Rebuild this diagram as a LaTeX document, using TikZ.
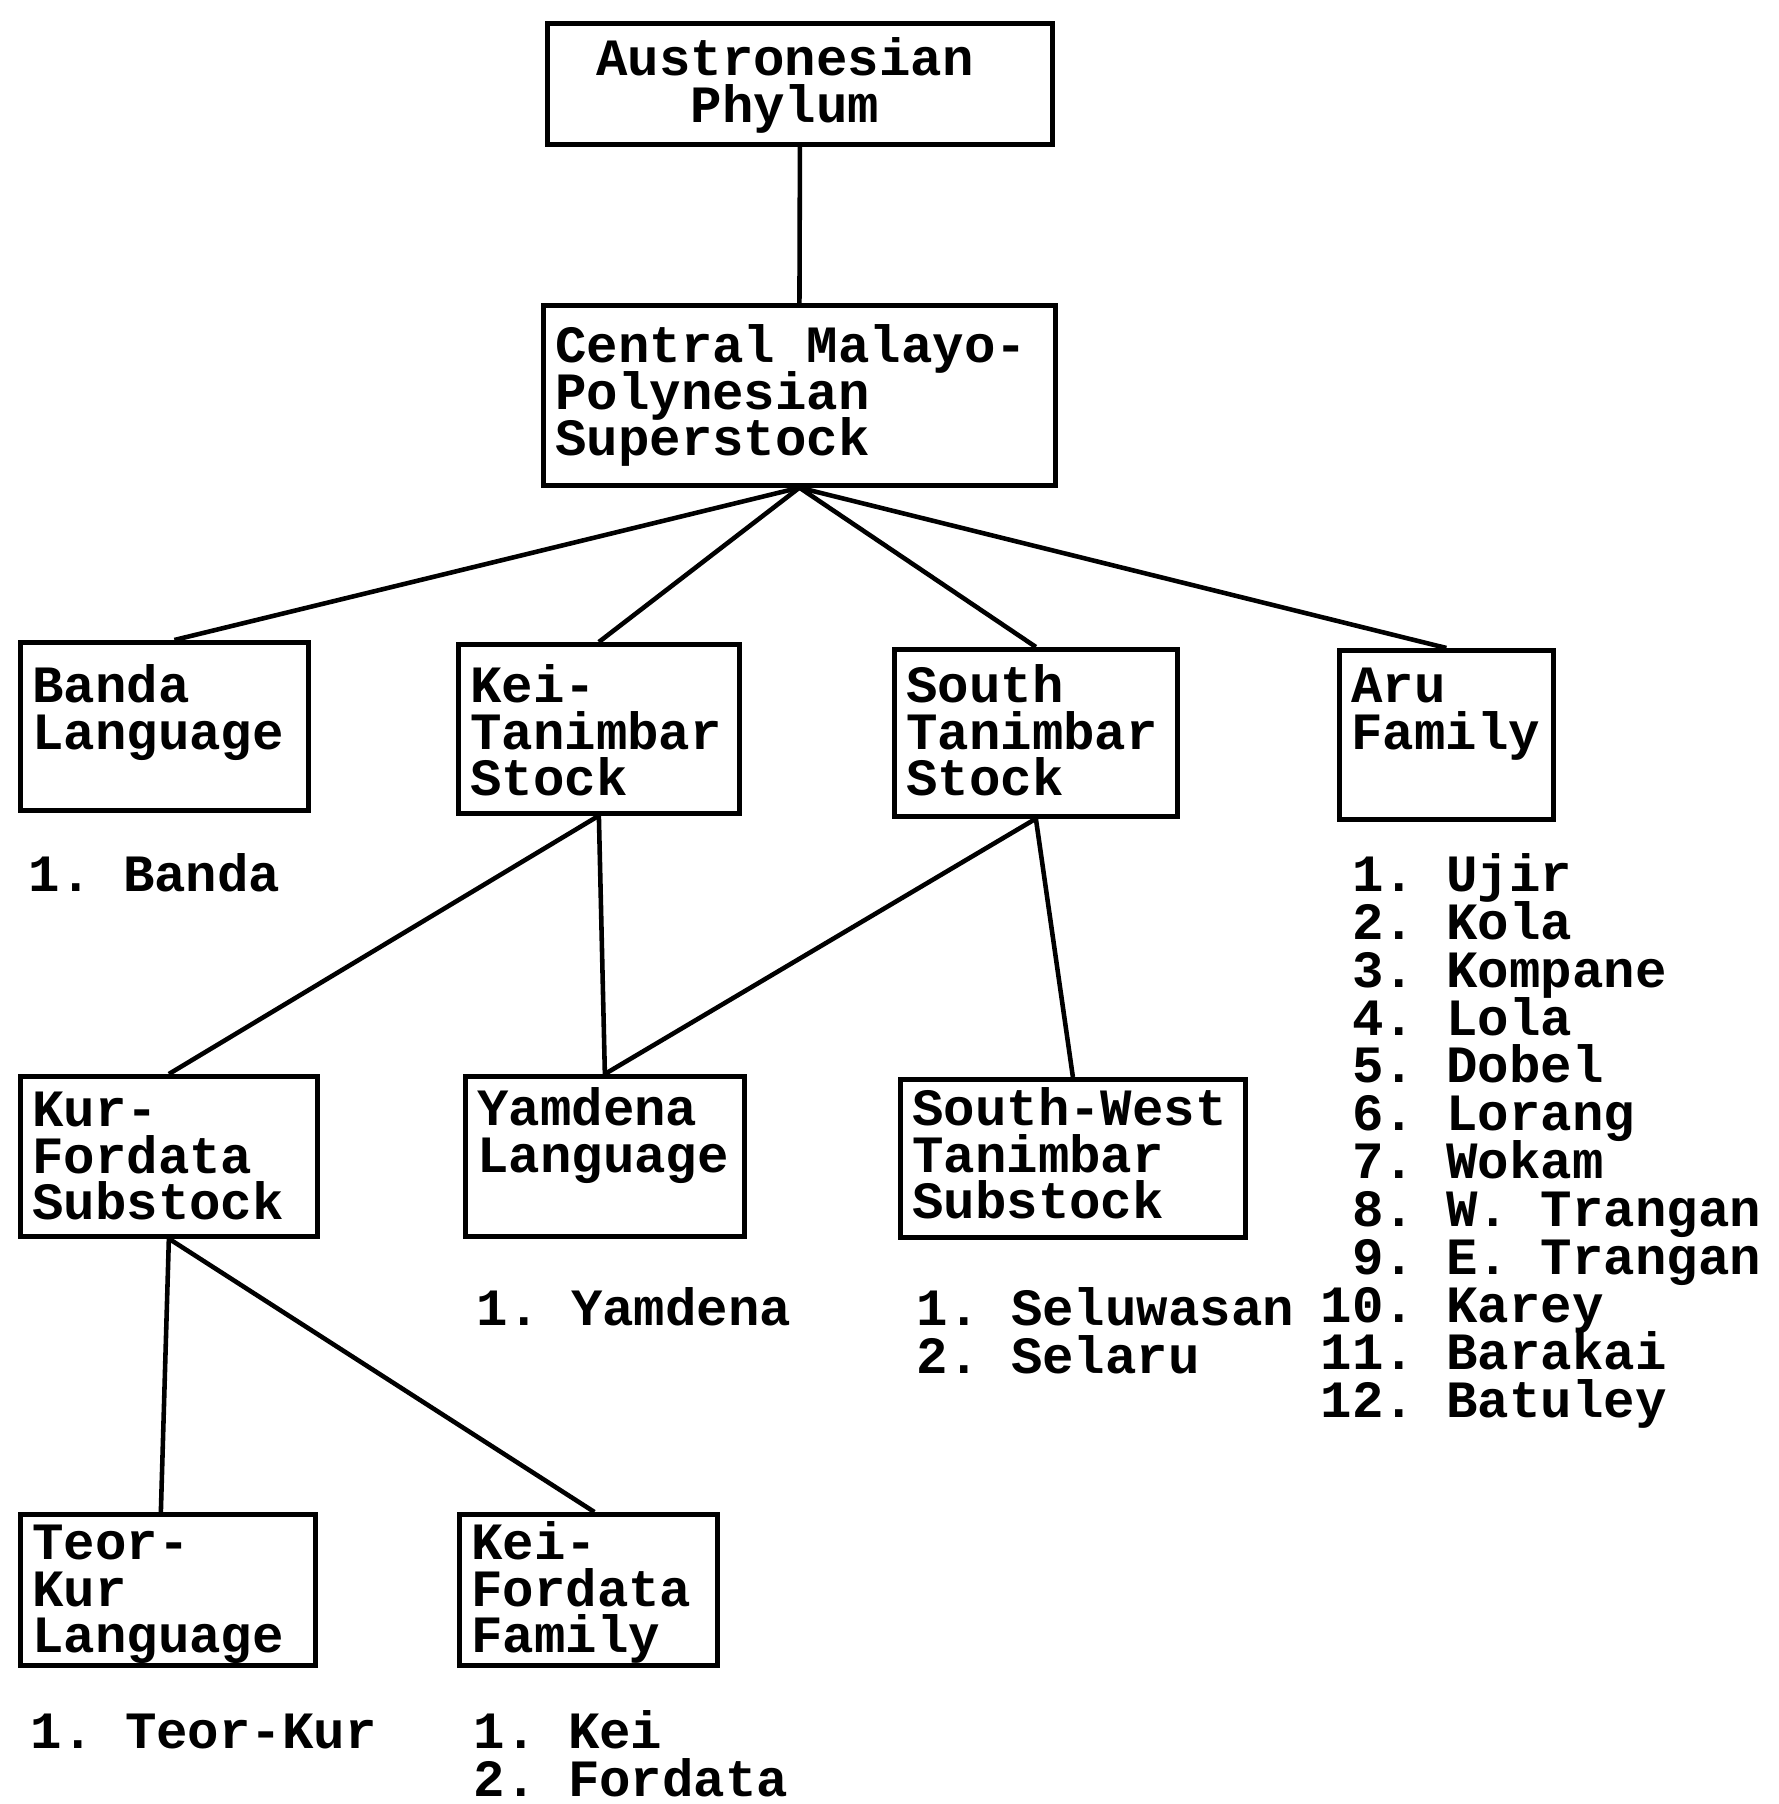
\documentclass[tikz,border=0pt]{standalone}
\usepackage{fontspec}
\setmainfont{Liberation Mono}
\usetikzlibrary{positioning}

% box text: [first baseline]{width}{height}{lines}
\newcommand{\bx}[4][0.55cm]{\begin{minipage}[t][#3][t]{#2}\fontsize{14.9}{13.3}\selectfont
  \setlength{\lineskiplimit}{-20pt}\raggedright\rule{0pt}{#1}#4\end{minipage}}

\begin{document}
\frenchspacing
\setlength{\lineskiplimit}{-20pt}
\begin{tikzpicture}[x=0.01cm, y=-0.01cm,
    box/.style={draw, line width=1.3pt, anchor=north west, inner xsep=0.12cm, inner ysep=0pt,
      font=\bfseries},
    lst/.style={anchor=north west, inner sep=0pt, align=left,
      font=\fontsize{14.9}{13.6}\selectfont\bfseries},
    link/.style={line width=1.3pt}]
\useasboundingbox (0,0) rectangle (1778,1804);

% Top levels
\node[box] (aust) at (545,21) {\bx[0.52cm]{4.81cm}{1.21cm}{\hspace*{0.37cm}Austronesian\\\hspace*{0.37cm}\phantom{Aus}Phylum}};
\node[box] (central) at (541,303) {\bx[0.57cm]{4.88cm}{1.80cm}{Central Malayo-\\Polynesian\\Superstock}};

% Second row
\node[box] (banda) at (18,640) {\bx[0.60cm]{2.64cm}{1.68cm}{Banda\\Language}};
\node[box] (keitan) at (456,642) {\bx[0.58cm]{2.57cm}{1.69cm}{Kei-\\Tanimbar\\Stock}};
\node[box] (southtan) at (892,647) {\bx[0.53cm]{2.59cm}{1.67cm}{South\\Tanimbar\\Stock}};
\node[box] (aru) at (1337,648) {\bx[0.52cm]{1.90cm}{1.69cm}{Aru\\Family}};

% Third row
\node[box] (kurfor) at (18,1074) {\bx[0.50cm]{2.73cm}{1.60cm}{Kur-\\Fordata\\Substock}};
\node[box] (yamdena) at (463,1074) {\bx[0.49cm]{2.55cm}{1.60cm}{Yamdena\\Language}};
\node[box] (southwest) at (898,1077) {\bx[0.46cm]{3.21cm}{1.58cm}{South-West\\Tanimbar\\Substock}};

% Bottom row
\node[box] (teorkur) at (18,1512) {\bx[0.45cm]{2.71cm}{1.51cm}{Teor-\\Kur\\Language}};
\node[box] (keifor) at (457,1512) {\bx[0.45cm]{2.34cm}{1.51cm}{Kei-\\Fordata\\Family}};

% Member lists
\node[lst] (bandalist) at (28,853) {1. Banda};
\node[lst] (yamlist) at (476,1287) {1. Yamdena};
\node[lst] (swlist) at (916,1287) {1. Seluwasan\\2. Selaru};
\node[lst] (teorlist) at (30,1713) {1. Teor-Kur};
\node[lst] (keiflist) at (473,1710) {1. Kei\\2. Fordata};
\node[lst] (arulist) at (1320,853) {\phantom{1}1. Ujir\\\phantom{1}2. Kola\\\phantom{1}3. Kompane\\
  \phantom{1}4. Lola\\\phantom{1}5. Dobel\\\phantom{1}6. Lorang\\\phantom{1}7. Wokam\\
  \phantom{1}8. W. Trangan\\\phantom{1}9. E. Trangan\\10. Karey\\11. Barakai\\12. Batuley};

% Connections
\draw[link] (aust.south) -- (central.north);
\draw[link] (central.south) -- ([xshift=0.1cm]banda.north);
\draw[link] (central.south) -- (keitan.north);
\draw[link] (central.south) -- (southtan.north);
\draw[link] (central.south) -- (aru.north);
\draw[link] (keitan.south) -- (kurfor.north);
\draw[link] (keitan.south) -- (yamdena.north);
\draw[link] (southtan.south) -- (yamdena.north);
\draw[link] (southtan.south) -- (southwest.north);
\draw[link] (kurfor.south) -- ([xshift=-0.07cm]teorkur.north);
\draw[link] (kurfor.south) -- ([xshift=0.06cm]keifor.north);
\end{tikzpicture}
\end{document}
